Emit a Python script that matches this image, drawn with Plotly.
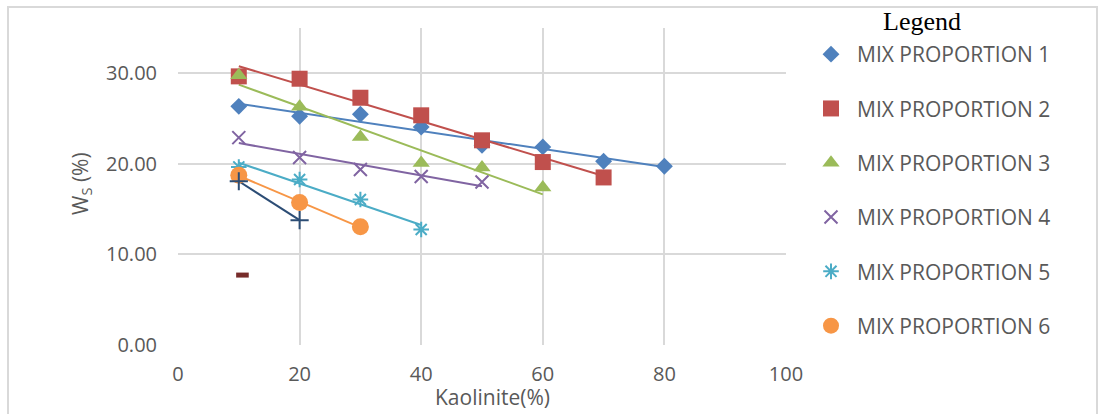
import numpy as np
import plotly.graph_objects as go

# Kaolinite content (%) and W_S (%) for each mix proportion
kaolinite_mp1 = [10, 20, 30, 40, 50, 60, 70, 80]
ws_mp1 = [26.35, 25.25, 25.47, 24.07, 22.05, 21.87, 20.29, 19.74]

kaolinite_mp2 = [10, 20, 30, 40, 50, 60, 70]
ws_mp2 = [29.66, 29.40, 27.30, 25.36, 22.60, 20.20, 18.50]

kaolinite_mp3 = [10, 20, 30, 40, 50, 60]
ws_mp3 = [29.77, 26.30, 22.97, 20.10, 19.60, 17.40]

kaolinite_mp4 = [10, 20, 30, 40, 50]
ws_mp4 = [22.90, 20.70, 19.37, 18.60, 18.00]

kaolinite_mp5 = [10, 20, 30, 40]
ws_mp5 = [19.66, 18.27, 16.06, 12.75]

kaolinite_mp6 = [10, 20, 30]
ws_mp6 = [18.74, 15.73, 13.05]

kaolinite_s7 = [10, 20]
ws_s7 = [18.08, 13.78]

kaolinite_s8 = [10.6]
ws_s8 = [7.72]

series_names = ["MIX PROPORTION 1", "MIX PROPORTION 2", "MIX PROPORTION 3",
                "MIX PROPORTION 4", "MIX PROPORTION 5", "MIX PROPORTION 6",
                "Series 7", "Series 8"]

x_ticks = [0, 20, 40, 60, 80, 100]
y_ticks = [0, 10, 20, 30]
y_tick_labels = ["0.00", "10.00", "20.00", "30.00"]

# Figure geometry (pixels)
W, H = 1098, 414
L, R, T, B = 178, 312, 28, 69
PW, PH = W - L - R, H - T - B


def px_x(p):
    return (p - L) / PW


def px_y(p):
    return (H - B - p) / PH


styles = [
    dict(symbol="diamond", size=13, color="#4f81bd"),
    dict(symbol="square", size=16, color="#c0504d"),
    dict(symbol="triangle-up", size=15, color="#9bbb59"),
    dict(symbol="x-thin", size=13, color="#8064a2", open=True),
    dict(symbol="asterisk", size=13, color="#4bacc6", open=True),
    dict(symbol="circle", size=17, color="#f79646"),
    dict(symbol="cross-thin", size=13, color="#2c4d75", open=True),
    dict(symbol="line-ew", size=9, color="#772c2a", open=True, lw=5),
]

data = [
    (kaolinite_mp1, ws_mp1), (kaolinite_mp2, ws_mp2), (kaolinite_mp3, ws_mp3),
    (kaolinite_mp4, ws_mp4), (kaolinite_mp5, ws_mp5), (kaolinite_mp6, ws_mp6),
    (kaolinite_s7, ws_s7), (kaolinite_s8, ws_s8),
]

fig = go.Figure()

# Linear trendlines (least squares) over each series' range
for i, ((xs, ys), st) in enumerate(zip(data, styles)):
    if len(xs) < 2:
        continue
    k, c = np.polyfit(xs, ys, 1)
    xl = [min(xs), max(xs)]
    yl = [k * v + c for v in xl]
    fig.add_trace(go.Scatter(
        x=xl, y=yl, mode="lines", showlegend=False, hoverinfo="skip",
        line=dict(color=st["color"], width=2),
    ))

# Data markers
for i, ((xs, ys), st) in enumerate(zip(data, styles)):
    if st.get("open"):
        marker = dict(symbol=st["symbol"], size=st["size"],
                      color=st["color"],
                      line=dict(color=st["color"], width=st.get("lw", 2)))
    else:
        marker = dict(symbol=st["symbol"], size=st["size"],
                      color=st["color"], line=dict(width=0))
    fig.add_trace(go.Scatter(
        x=xs, y=ys, mode="markers", name=series_names[i],
        marker=marker, legendgroup=f"g{i}",
        showlegend=i < 6,
    ))

grid = "#d9d9d9"
text_grey = "#595959"
tick_font = dict(family="Open Sans", size=20, color=text_grey)

fig.update_layout(
    width=W, height=H,
    margin=dict(l=L, r=R, t=T, b=B, pad=0),
    paper_bgcolor="white", plot_bgcolor="white",
    showlegend=True,
    legend=dict(
        x=px_x(805), xanchor="left", y=px_y(34), yanchor="top",
        font=dict(family="Open Sans", size=21, color=text_grey),
        tracegroupgap=24, bgcolor="rgba(0,0,0,0)", itemwidth=42,
    ),
    xaxis=dict(
        range=[0, 100], tickvals=x_ticks, ticktext=[str(v) for v in x_ticks],
        showgrid=True, gridcolor=grid, gridwidth=1.5, zeroline=False,
        showline=False, ticks="", tickfont=tick_font, ticklabelstandoff=15,
    ),
    yaxis=dict(
        range=[0, 35], tickvals=y_ticks, ticktext=y_tick_labels,
        showgrid=True, gridcolor=grid, gridwidth=1.5, zeroline=False,
        showline=False, ticks="", tickfont=tick_font, ticklabelstandoff=20,
    ),
    annotations=[
        dict(text="Kaolinite(%)", xref="paper", yref="paper",
             x=px_x(492), y=px_y(397), xanchor="center", yanchor="middle",
             showarrow=False, font=dict(family="Open Sans", size=21, color=text_grey)),
        dict(text="W<sub>S</sub> (%)", xref="paper", yref="paper",
             x=px_x(81), y=px_y(184), xanchor="center", yanchor="middle",
             textangle=-90, showarrow=False,
             font=dict(family="Open Sans", size=21, color=text_grey)),
        dict(text="Legend", xref="paper", yref="paper",
             x=px_x(922), y=px_y(22), xanchor="center", yanchor="middle",
             showarrow=False, font=dict(family="Liberation Serif", size=26, color="black")),
    ],
    shapes=[
        dict(type="rect", xref="paper", yref="paper",
             x0=px_x(8), x1=px_x(1097), y0=px_y(430), y1=px_y(7),
             line=dict(color=grid, width=2), fillcolor="rgba(0,0,0,0)", layer="below"),
    ],
)

fig.write_html("out.html")
